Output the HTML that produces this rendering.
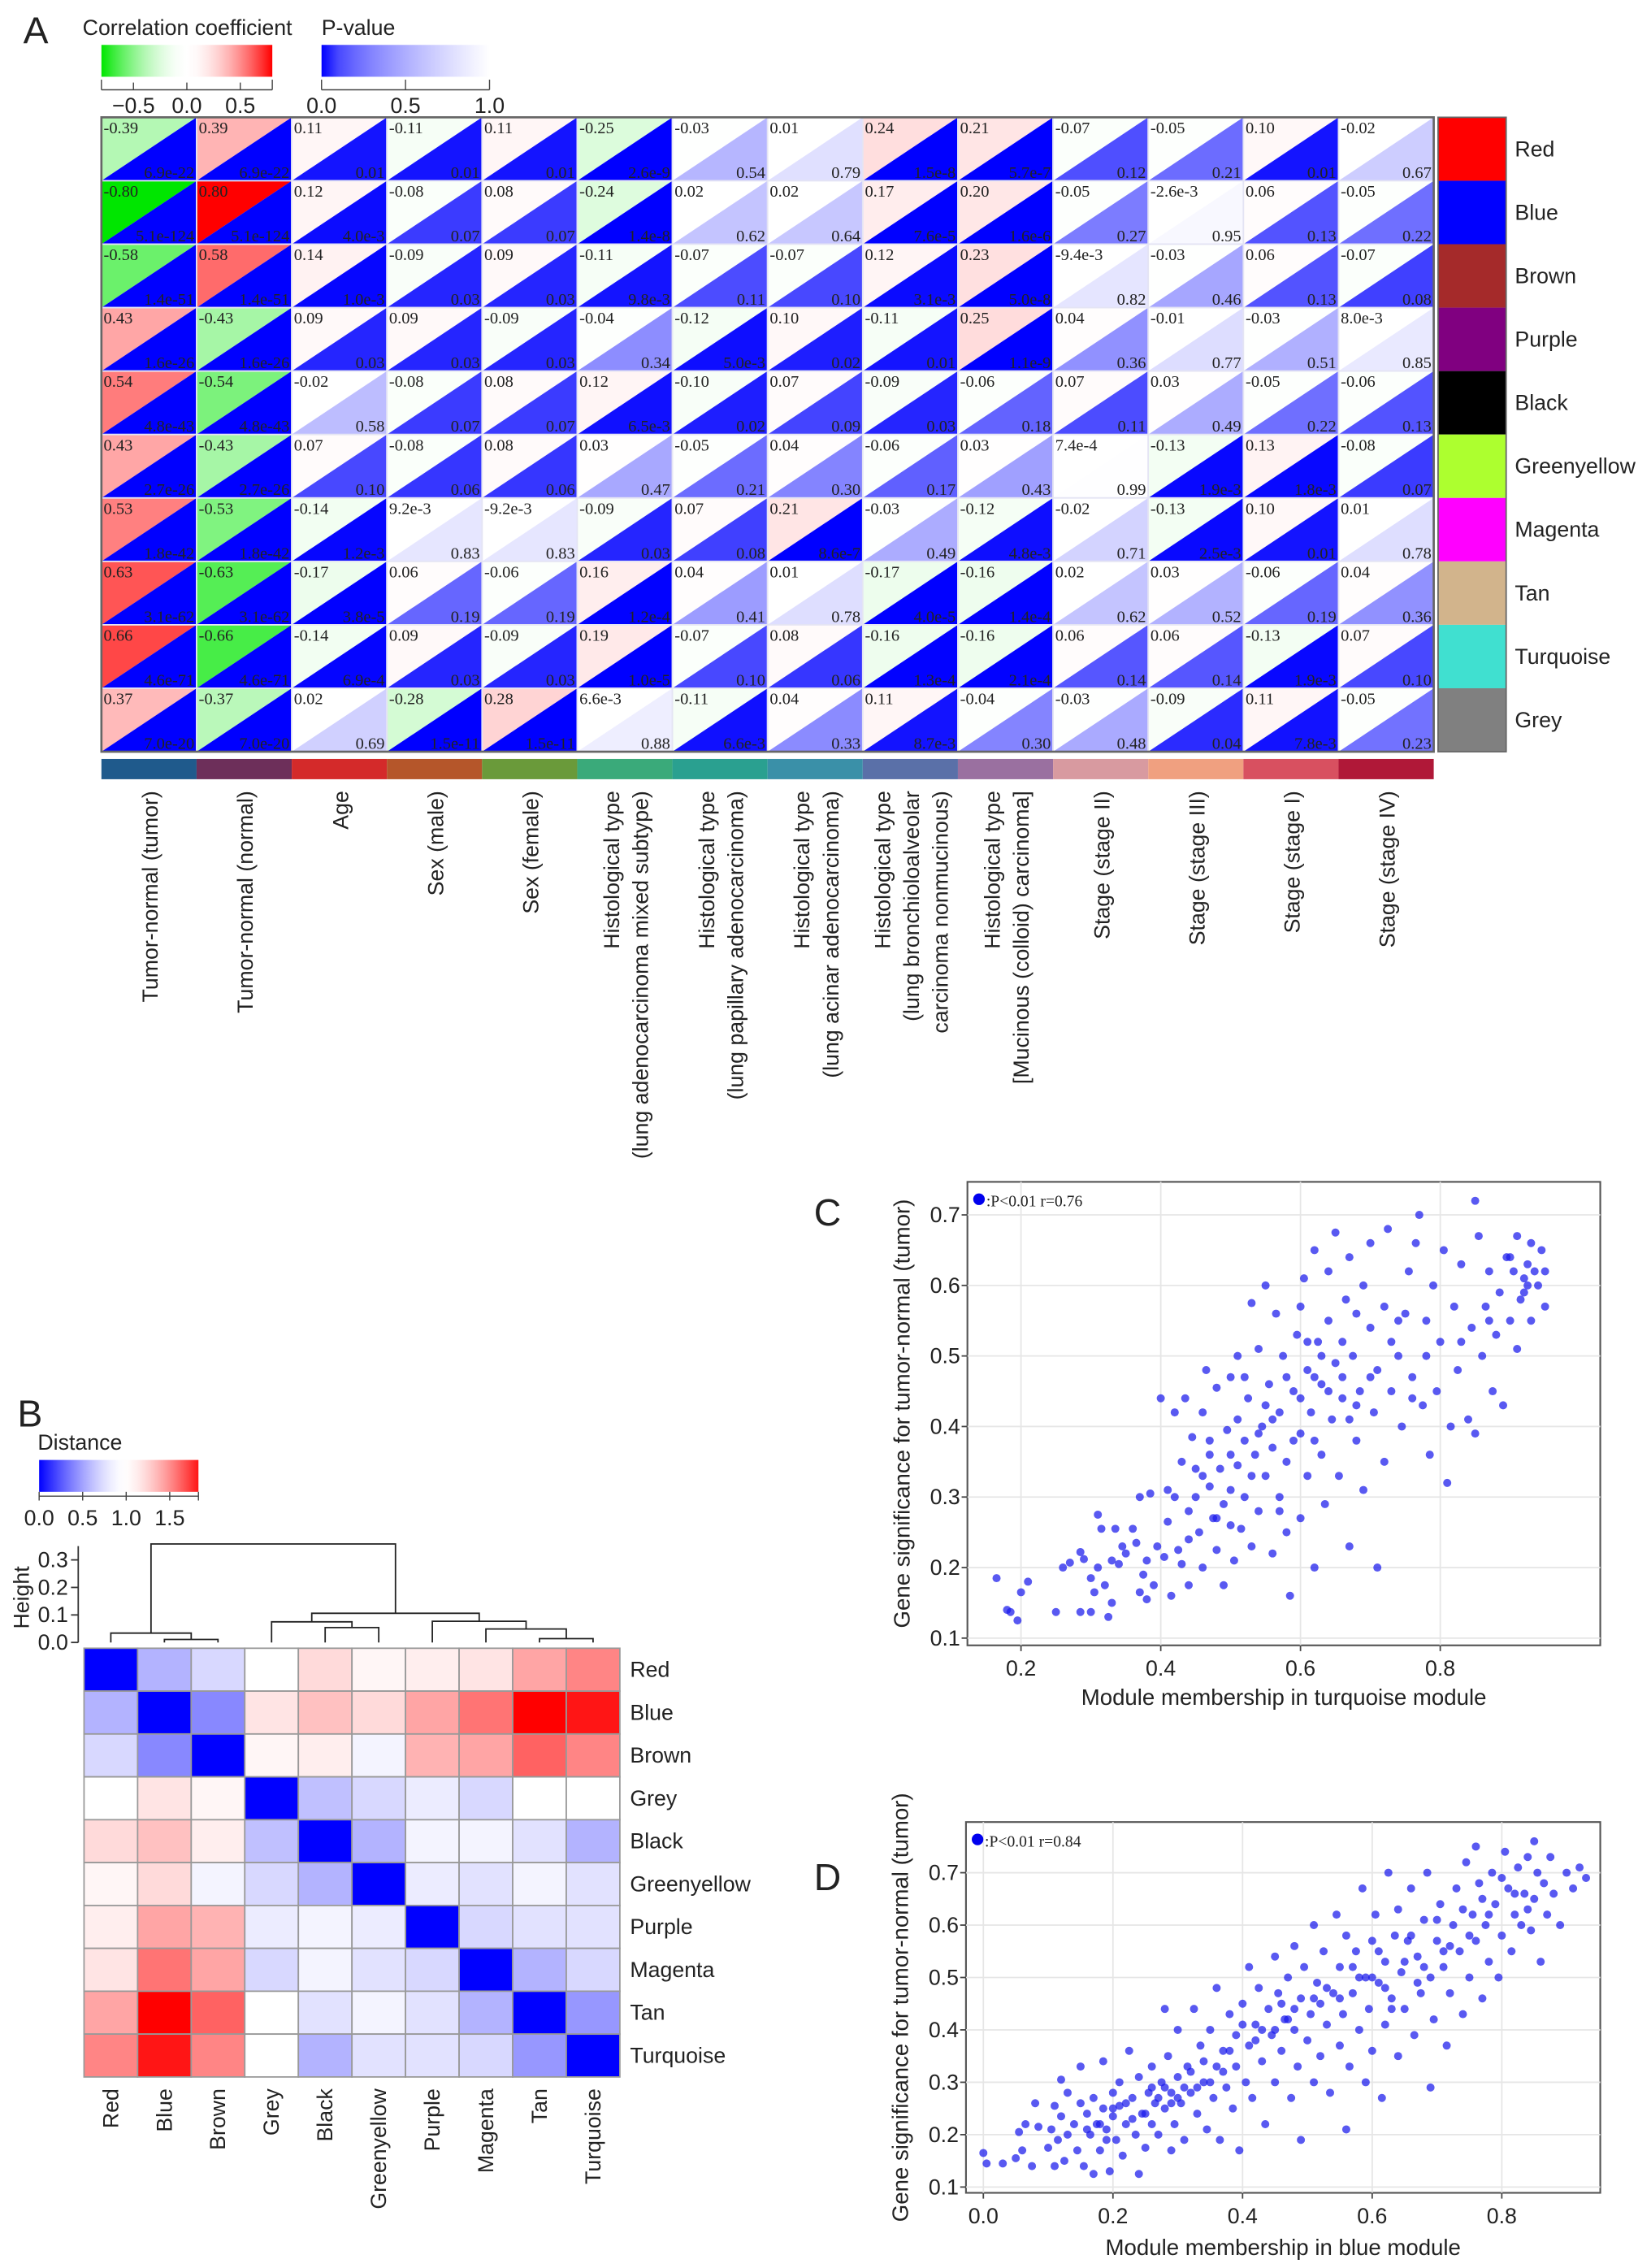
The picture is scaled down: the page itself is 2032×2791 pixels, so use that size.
<!DOCTYPE html>
<html><head><meta charset="utf-8"><style>
html,body{margin:0;padding:0;background:#fff;}
svg{display:block;}
text{font-family:"Liberation Sans",sans-serif;fill:#222;}
.serif{font-family:"Liberation Serif",serif;}
</style></head>
<body>
<svg id="fig" width="2032" height="2791" viewBox="0 0 1140 1565.9" xmlns="http://www.w3.org/2000/svg">
<rect x="0" y="0" width="1140" height="1566" fill="#fff"/>
</svg>
<script>
// ===== Panel A data =====
const traitLabels = [["Tumor-normal (tumor)"],["Tumor-normal (normal)"],["Age"],["Sex (male)"],["Sex (female)"],["Histological type","(lung adenocarcinoma mixed subtype)"],["Histological type","(lung papillary adenocarcinoma)"],["Histological type","(lung acinar adenocarcinoma)"],["Histological type","(lung bronchioloalveolar","carcinoma nonmucinous)"],["Histological type","[Mucinous (colloid) carcinoma]"],["Stage (stage II)"],["Stage (stage III)"],["Stage (stage I)"],["Stage (stage IV)"]];
const traitColors = ["#1f5a8c","#6d2f5a","#d42a2a","#b5562a","#6a9a3a","#3aaa7a","#2aa090","#3a90a8","#5a70a8","#9a70a0","#d89aa0","#f0a080","#d85060","#b01838"];
const moduleNames = ["Red","Blue","Brown","Purple","Black","Greenyellow","Magenta","Tan","Turquoise","Grey"];
const moduleColors = ["#ff0000","#0000ff","#a52a2a","#800080","#000000","#adff2f","#ff00ff","#d2b48c","#40e0d0","#808080"];
const corrValues = [
["-0.39","0.39","0.11","-0.11","0.11","-0.25","-0.03","0.01","0.24","0.21","-0.07","-0.05","0.10","-0.02"],
["-0.80","0.80","0.12","-0.08","0.08","-0.24","0.02","0.02","0.17","0.20","-0.05","-2.6e-3","0.06","-0.05"],
["-0.58","0.58","0.14","-0.09","0.09","-0.11","-0.07","-0.07","0.12","0.23","-9.4e-3","-0.03","0.06","-0.07"],
["0.43","-0.43","0.09","0.09","-0.09","-0.04","-0.12","0.10","-0.11","0.25","0.04","-0.01","-0.03","8.0e-3"],
["0.54","-0.54","-0.02","-0.08","0.08","0.12","-0.10","0.07","-0.09","-0.06","0.07","0.03","-0.05","-0.06"],
["0.43","-0.43","0.07","-0.08","0.08","0.03","-0.05","0.04","-0.06","0.03","7.4e-4","-0.13","0.13","-0.08"],
["0.53","-0.53","-0.14","9.2e-3","-9.2e-3","-0.09","0.07","0.21","-0.03","-0.12","-0.02","-0.13","0.10","0.01"],
["0.63","-0.63","-0.17","0.06","-0.06","0.16","0.04","0.01","-0.17","-0.16","0.02","0.03","-0.06","0.04"],
["0.66","-0.66","-0.14","0.09","-0.09","0.19","-0.07","0.08","-0.16","-0.16","0.06","0.06","-0.13","0.07"],
["0.37","-0.37","0.02","-0.28","0.28","6.6e-3","-0.11","0.04","0.11","-0.04","-0.03","-0.09","0.11","-0.05"]];
const pValues = [
["6.9e-22","6.9e-22","0.01","0.01","0.01","2.6e-9","0.54","0.79","1.5e-8","5.7e-7","0.12","0.21","0.01","0.67"],
["5.1e-124","5.1e-124","4.0e-3","0.07","0.07","1.4e-8","0.62","0.64","7.6e-5","1.6e-6","0.27","0.95","0.13","0.22"],
["1.4e-51","1.4e-51","1.0e-3","0.03","0.03","9.8e-3","0.11","0.10","3.1e-3","5.0e-8","0.82","0.46","0.13","0.08"],
["1.6e-26","1.6e-26","0.03","0.03","0.03","0.34","5.0e-3","0.02","0.01","1.1e-9","0.36","0.77","0.51","0.85"],
["4.8e-43","4.8e-43","0.58","0.07","0.07","6.5e-3","0.02","0.09","0.03","0.18","0.11","0.49","0.22","0.13"],
["2.7e-26","2.7e-26","0.10","0.06","0.06","0.47","0.21","0.30","0.17","0.43","0.99","1.9e-3","1.8e-3","0.07"],
["1.8e-42","1.8e-42","1.2e-3","0.83","0.83","0.03","0.08","8.6e-7","0.49","4.8e-3","0.71","2.5e-3","0.01","0.78"],
["3.1e-62","3.1e-62","3.8e-5","0.19","0.19","1.2e-4","0.41","0.78","4.0e-5","1.4e-4","0.62","0.52","0.19","0.36"],
["4.6e-71","4.6e-71","6.9e-4","0.03","0.03","1.0e-5","0.10","0.06","1.3e-4","2.1e-4","0.14","0.14","1.9e-3","0.10"],
["7.0e-20","7.0e-20","0.69","1.5e-11","1.5e-11","0.88","6.6e-3","0.33","8.7e-3","0.30","0.48","0.04","7.8e-3","0.23"]];
const corrTicks = ["−0.5","0.0","0.5"];
const corrTickVals = [-0.5,0,0.5];
const pTicks = ["0.0","0.5","1.0"];
const pTickVals = [0,0.5,1];

// ===== Panel B data =====
const distNames = ["Red","Blue","Brown","Grey","Black","Greenyellow","Purple","Magenta","Tan","Turquoise"];
const distMatrix = [
[0,0.55,0.7,0.95,1.2,1.05,1.1,1.15,1.4,1.5],
[0.55,0,0.4,1.15,1.3,1.2,1.4,1.55,1.85,1.8],
[0.7,0.4,0,1.05,1.1,0.85,1.35,1.4,1.6,1.5],
[0.95,1.15,1.05,0,0.6,0.7,0.8,0.7,0.95,0.95],
[1.2,1.3,1.1,0.6,0,0.55,0.85,0.85,0.75,0.55],
[1.05,1.2,0.85,0.7,0.55,0,0.8,0.75,0.85,0.75],
[1.1,1.4,1.35,0.8,0.85,0.8,0,0.7,0.75,0.75],
[1.15,1.55,1.4,0.7,0.85,0.75,0.7,0,0.55,0.7],
[1.4,1.85,1.6,0.95,0.75,0.85,0.75,0.55,0,0.45],
[1.5,1.8,1.5,0.95,0.55,0.75,0.75,0.7,0.45,0]];
const distTicks = ["0.0","0.5","1.0","1.5"];
const distTickVals = [0,0.5,1,1.5];
const heightTicks = ["0.0","0.1","0.2","0.3"];
const heightTickVals = [0,0.1,0.2,0.3];
const dendroMerges = [[1,2,0.011],[8,9,0.014],[0,10,0.034],[4,5,0.054],[7,11,0.049],[3,13,0.075],[6,14,0.077],[15,16,0.106],[12,17,0.358]];

// ===== Panel C data =====
const cTicksX = [0.2,0.4,0.6,0.8];
const cTicksY = [0.1,0.2,0.3,0.4,0.5,0.6,0.7];
const cPoints = [[0.165,0.185],[0.18,0.14],[0.185,0.137],[0.195,0.125],[0.2,0.165],[0.21,0.18],[0.25,0.137],[0.26,0.2],[0.27,0.207],[0.285,0.137],[0.285,0.222],[0.29,0.212],[0.3,0.185],[0.3,0.137],[0.305,0.165],[0.31,0.275],[0.31,0.2],[0.315,0.255],[0.32,0.175],[0.325,0.13],[0.33,0.15],[0.33,0.21],[0.335,0.255],[0.34,0.205],[0.345,0.23],[0.35,0.22],[0.36,0.255],[0.365,0.235],[0.37,0.165],[0.37,0.3],[0.375,0.19],[0.38,0.155],[0.38,0.21],[0.385,0.305],[0.39,0.175],[0.395,0.23],[0.4,0.44],[0.405,0.215],[0.41,0.31],[0.41,0.265],[0.415,0.16],[0.42,0.42],[0.425,0.225],[0.43,0.35],[0.43,0.205],[0.435,0.44],[0.44,0.28],[0.44,0.175],[0.445,0.385],[0.45,0.3],[0.455,0.25],[0.46,0.42],[0.46,0.2],[0.465,0.48],[0.47,0.36],[0.47,0.315],[0.475,0.27],[0.48,0.455],[0.48,0.225],[0.485,0.34],[0.49,0.175],[0.49,0.29],[0.495,0.395],[0.5,0.31],[0.5,0.47],[0.505,0.21],[0.51,0.345],[0.51,0.5],[0.515,0.255],[0.52,0.38],[0.52,0.3],[0.525,0.44],[0.53,0.575],[0.53,0.23],[0.535,0.36],[0.54,0.51],[0.54,0.28],[0.545,0.4],[0.55,0.6],[0.55,0.33],[0.555,0.46],[0.56,0.22],[0.56,0.37],[0.565,0.56],[0.57,0.3],[0.57,0.42],[0.575,0.5],[0.58,0.35],[0.58,0.25],[0.585,0.16],[0.59,0.45],[0.595,0.53],[0.6,0.39],[0.6,0.27],[0.605,0.61],[0.61,0.48],[0.61,0.33],[0.615,0.42],[0.62,0.65],[0.62,0.2],[0.625,0.52],[0.63,0.36],[0.63,0.46],[0.635,0.29],[0.64,0.55],[0.64,0.62],[0.645,0.41],[0.65,0.49],[0.65,0.675],[0.655,0.33],[0.66,0.44],[0.665,0.58],[0.67,0.64],[0.67,0.23],[0.675,0.5],[0.68,0.38],[0.685,0.45],[0.69,0.6],[0.69,0.31],[0.7,0.54],[0.7,0.66],[0.705,0.42],[0.71,0.2],[0.71,0.48],[0.72,0.35],[0.72,0.57],[0.725,0.68],[0.73,0.45],[0.74,0.5],[0.745,0.4],[0.75,0.56],[0.755,0.62],[0.76,0.47],[0.765,0.66],[0.77,0.7],[0.775,0.43],[0.78,0.55],[0.785,0.36],[0.79,0.6],[0.795,0.45],[0.8,0.52],[0.805,0.65],[0.81,0.32],[0.815,0.4],[0.82,0.57],[0.825,0.48],[0.83,0.63],[0.84,0.41],[0.845,0.54],[0.85,0.72],[0.85,0.39],[0.855,0.67],[0.86,0.5],[0.865,0.57],[0.87,0.62],[0.875,0.45],[0.88,0.53],[0.885,0.59],[0.89,0.43],[0.895,0.64],[0.9,0.55],[0.905,0.62],[0.91,0.67],[0.91,0.51],[0.915,0.58],[0.92,0.61],[0.925,0.6],[0.925,0.63],[0.93,0.55],[0.93,0.66],[0.935,0.62],[0.94,0.6],[0.945,0.65],[0.95,0.57],[0.95,0.62],[0.52,0.47],[0.56,0.41],[0.6,0.44],[0.62,0.47],[0.66,0.52],[0.68,0.43],[0.58,0.47],[0.54,0.39],[0.5,0.36],[0.46,0.33],[0.64,0.45],[0.7,0.47],[0.74,0.55],[0.78,0.5],[0.62,0.38],[0.57,0.28],[0.48,0.27],[0.44,0.24],[0.53,0.33],[0.59,0.38],[0.61,0.52],[0.63,0.5],[0.66,0.47],[0.67,0.41],[0.55,0.43],[0.51,0.41],[0.47,0.38],[0.6,0.57],[0.68,0.56],[0.73,0.52],[0.76,0.44],[0.83,0.52],[0.87,0.55],[0.92,0.59],[0.9,0.64],[0.45,0.34],[0.42,0.3],[0.5,0.26]];

// ===== Panel D data =====
const dTicksX = [0,0.2,0.4,0.6,0.8];
const dTicksY = [0.1,0.2,0.3,0.4,0.5,0.6,0.7];
const dPoints = [[0,0.165],[0.005,0.145],[0.03,0.145],[0.05,0.155],[0.055,0.205],[0.06,0.17],[0.065,0.22],[0.075,0.14],[0.08,0.26],[0.085,0.215],[0.1,0.175],[0.105,0.21],[0.11,0.255],[0.11,0.14],[0.115,0.19],[0.12,0.305],[0.12,0.235],[0.125,0.15],[0.13,0.28],[0.13,0.2],[0.14,0.22],[0.145,0.17],[0.15,0.33],[0.15,0.26],[0.155,0.14],[0.16,0.24],[0.165,0.2],[0.17,0.125],[0.17,0.27],[0.175,0.22],[0.18,0.17],[0.185,0.34],[0.185,0.25],[0.19,0.21],[0.195,0.13],[0.2,0.28],[0.2,0.235],[0.205,0.19],[0.21,0.3],[0.21,0.255],[0.215,0.16],[0.22,0.22],[0.225,0.36],[0.23,0.27],[0.235,0.2],[0.24,0.125],[0.24,0.31],[0.245,0.24],[0.25,0.175],[0.255,0.28],[0.26,0.33],[0.26,0.22],[0.265,0.26],[0.27,0.2],[0.275,0.3],[0.28,0.44],[0.28,0.25],[0.285,0.35],[0.29,0.28],[0.29,0.17],[0.295,0.22],[0.3,0.31],[0.3,0.4],[0.305,0.26],[0.31,0.19],[0.315,0.33],[0.32,0.28],[0.325,0.44],[0.33,0.24],[0.335,0.37],[0.34,0.3],[0.345,0.21],[0.35,0.4],[0.355,0.27],[0.36,0.33],[0.36,0.48],[0.365,0.19],[0.37,0.36],[0.375,0.29],[0.38,0.43],[0.385,0.25],[0.39,0.39],[0.39,0.33],[0.395,0.17],[0.4,0.45],[0.405,0.3],[0.41,0.52],[0.41,0.37],[0.415,0.27],[0.42,0.41],[0.425,0.48],[0.43,0.34],[0.435,0.22],[0.44,0.44],[0.445,0.39],[0.45,0.54],[0.45,0.3],[0.455,0.47],[0.46,0.36],[0.465,0.42],[0.47,0.5],[0.475,0.27],[0.48,0.4],[0.48,0.56],[0.485,0.33],[0.49,0.46],[0.49,0.19],[0.495,0.52],[0.5,0.38],[0.505,0.43],[0.51,0.6],[0.51,0.3],[0.515,0.49],[0.52,0.35],[0.525,0.55],[0.53,0.41],[0.535,0.28],[0.54,0.47],[0.545,0.62],[0.55,0.37],[0.55,0.52],[0.555,0.43],[0.56,0.21],[0.56,0.58],[0.565,0.33],[0.57,0.47],[0.575,0.55],[0.58,0.4],[0.585,0.67],[0.59,0.5],[0.59,0.3],[0.595,0.44],[0.6,0.57],[0.6,0.36],[0.605,0.62],[0.61,0.49],[0.615,0.27],[0.62,0.53],[0.62,0.41],[0.625,0.7],[0.63,0.46],[0.635,0.58],[0.64,0.35],[0.64,0.63],[0.645,0.51],[0.65,0.44],[0.655,0.57],[0.66,0.67],[0.665,0.39],[0.67,0.54],[0.675,0.47],[0.68,0.61],[0.685,0.7],[0.69,0.5],[0.69,0.29],[0.695,0.42],[0.7,0.57],[0.705,0.64],[0.71,0.52],[0.715,0.37],[0.72,0.47],[0.725,0.6],[0.73,0.67],[0.735,0.55],[0.74,0.43],[0.745,0.72],[0.75,0.5],[0.755,0.62],[0.76,0.57],[0.76,0.75],[0.765,0.68],[0.77,0.46],[0.775,0.6],[0.78,0.53],[0.785,0.7],[0.79,0.64],[0.795,0.5],[0.8,0.58],[0.805,0.74],[0.81,0.67],[0.815,0.55],[0.82,0.62],[0.825,0.71],[0.83,0.6],[0.835,0.66],[0.84,0.73],[0.845,0.59],[0.85,0.76],[0.85,0.65],[0.855,0.7],[0.86,0.53],[0.865,0.68],[0.87,0.62],[0.875,0.73],[0.88,0.66],[0.89,0.6],[0.9,0.7],[0.91,0.67],[0.92,0.71],[0.93,0.69],[0.2,0.25],[0.22,0.26],[0.25,0.24],[0.28,0.29],[0.3,0.27],[0.32,0.32],[0.35,0.3],[0.38,0.36],[0.42,0.38],[0.45,0.4],[0.48,0.44],[0.52,0.45],[0.55,0.46],[0.58,0.5],[0.62,0.48],[0.65,0.53],[0.68,0.52],[0.72,0.56],[0.75,0.58],[0.78,0.62],[0.82,0.66],[0.18,0.22],[0.27,0.27],[0.33,0.29],[0.4,0.41],[0.46,0.45],[0.53,0.48],[0.6,0.5],[0.66,0.58],[0.7,0.61],[0.23,0.23],[0.26,0.29],[0.29,0.26],[0.31,0.29],[0.34,0.34],[0.37,0.32],[0.43,0.4],[0.47,0.42],[0.51,0.46],[0.57,0.52],[0.61,0.55],[0.63,0.44],[0.67,0.49],[0.71,0.55],[0.74,0.63],[0.77,0.65],[0.8,0.69],[0.84,0.63],[0.19,0.19],[0.16,0.21]];

// ===== drawing helpers =====
const NS = "http://www.w3.org/2000/svg";
const svg = document.getElementById("fig");
function mk(tag, attrs, parent) {
  const el = document.createElementNS(NS, tag);
  for (const k in attrs) el.setAttribute(k, attrs[k]);
  (parent || svg).appendChild(el);
  return el;
}
function txt(s, attrs, parent) { const t = mk("text", attrs, parent); t.textContent = s; return t; }
function mix(c, t) {
  t = Math.max(0, Math.min(1, t));
  return "rgb(" + c.map(v => Math.round(255 + (v - 255) * t)).join(",") + ")";
}
function corrColor(r) {
  const t = Math.min(1, Math.pow(Math.abs(r) / 0.8, 1.7));
  return r >= 0 ? mix([255, 0, 0], t) : mix([0, 230, 0], t);
}
function pColor(p) { return mix([0, 0, 255], 1 - Math.pow(p, 0.55)); }

// ===== Panel A =====
const gA = mk("g", {});


let el = txt("A", {x: 16, y: 30, "font-size": 26}, gA);



const defs = mk("defs", {});
const g1 = mk("linearGradient", {id: "gCorr", x1: 0, x2: 1, y1: 0, y2: 0}, defs);
for (let i = 0; i <= 16; i++) { const r = -0.8 + i * 0.1; mk("stop", {offset: (i / 16), "stop-color": corrColor(r)}, g1); }
const g2 = mk("linearGradient", {id: "gP", x1: 0, x2: 1, y1: 0, y2: 0}, defs);
for (let i = 0; i <= 10; i++) mk("stop", {offset: i / 10, "stop-color": pColor(i / 10)}, g2);
const g3 = mk("linearGradient", {id: "gDist", x1: 0, x2: 1, y1: 0, y2: 0}, defs);

const cbA = mk("g", {}, gA);


txt("Correlation coefficient", {x: 57, y: 24, "font-size": 15}, cbA);
mk("rect", {x: 70, y: 31, width: 118, height: 22, fill: "url(#gCorr)"}, cbA);
mk("line", {x1: 70, x2: 188, y1: 62, y2: 62, stroke: "#444", "stroke-width": 0.8}, cbA);
const cx = v => 70 + (v + 0.8) / 1.6 * 118;
[-0.8, 0.8].forEach(v => mk("line", {x1: cx(v), x2: cx(v), y1: 55, y2: 62, stroke: "#444", "stroke-width": 0.8}, cbA));
corrTickVals.forEach((v, i) => {
  mk("line", {x1: cx(v), x2: cx(v), y1: 57, y2: 62, stroke: "#444", "stroke-width": 0.8}, cbA);
  txt(corrTicks[i], {x: cx(v), y: 78, "font-size": 15, "text-anchor": "middle"}, cbA);
});
const cbP = mk("g", {}, gA);


txt("P-value", {x: 222, y: 24, "font-size": 15}, cbP);
mk("rect", {x: 222, y: 31, width: 116, height: 22, fill: "url(#gP)"}, cbP);
mk("line", {x1: 222, x2: 338, y1: 62, y2: 62, stroke: "#444", "stroke-width": 0.8}, cbP);
const pxs = v => 222 + v * 116;
pTickVals.forEach((v, i) => {
  mk("line", {x1: pxs(v), x2: pxs(v), y1: 55, y2: 62, stroke: "#444", "stroke-width": 0.8}, cbP);
  txt(pTicks[i], {x: pxs(v), y: 78, "font-size": 15, "text-anchor": "middle"}, cbP);
});

const hx0 = 70, hy0 = 81, cw = 920 / 14, ch = 438 / 10;
const hm = mk("g", {}, gA);


for (let r = 0; r < corrValues.length; r++) {
  for (let c = 0; c < corrValues[r].length; c++) {
    const x = hx0 + c * cw, y = hy0 + r * ch;
    const rv = parseFloat(corrValues[r][c]), pv = parseFloat(pValues[r][c]);
    const cell = mk("g", {}, hm);
    
    
    mk("polygon", {points: `${x},${y} ${x + cw},${y} ${x},${y + ch}`, fill: corrColor(rv)}, cell);
    mk("polygon", {points: `${x + cw},${y} ${x + cw},${y + ch} ${x},${y + ch}`, fill: pColor(pv)}, cell);
    mk("rect", {x: x, y: y, width: cw, height: ch, fill: "none", stroke: "#e4e4f4", "stroke-width": 1}, cell);
    txt(corrValues[r][c], {x: x + 1.5, y: y + 11, "font-size": 11.5, class: "serif"}, cell);
    txt(pValues[r][c], {x: x + cw - 1.5, y: y + ch - 2, "font-size": 11.5, class: "serif", "text-anchor": "end"}, cell);
  }
}
mk("rect", {x: hx0, y: hy0, width: 920, height: 438, fill: "none", stroke: "#666", "stroke-width": 1.5}, hm);

const ml = mk("g", {}, gA);


moduleNames.forEach((n, i) => {
  const y = hy0 + i * ch;
  const sw = mk("rect", {x: 993, y: y, width: 47, height: ch, fill: moduleColors[i]}, ml);
  
  
  const lt = txt(n, {x: 1046, y: y + ch / 2 + 5, "font-size": 15}, ml);
  
  
});
mk("rect", {x: 993, y: hy0, width: 47, height: 438, fill: "none", stroke: "#666", "stroke-width": 1}, ml);

const tl = mk("g", {}, gA);


traitLabels.forEach((lines, i) => {
  const x = hx0 + i * cw;
  const bar = mk("rect", {x: x, y: 524, width: cw, height: 14, fill: traitColors[i]}, tl);
  
  
  const mid = x + cw / 2, n = lines.length, ls = 20;
  lines.forEach((s, j) => {
    const bx = mid + 6 + (j - (n - 1) / 2) * ls;
    const t = txt(s, {x: 0, y: 0, "font-size": 15, "text-anchor": "end", transform: `translate(${bx},546) rotate(-90)`}, tl);
    
    
  });
});

// ===== Panel B =====
const gB = mk("g", {});


el = txt("B", {x: 12, y: 985, "font-size": 26}, gB);


function distColor(d) {
  if (d <= 0.95) return mix([0, 0, 255], Math.pow(1 - d / 0.95, 1.4));
  return mix([255, 0, 0], Math.pow((d - 0.95) / 0.9, 1.5));
}
for (let i = 0; i <= 18; i++) mk("stop", {offset: i / 18, "stop-color": distColor(i * 0.1)}, g3);
const cbB = mk("g", {}, gB);


txt("Distance", {x: 26, y: 1001, "font-size": 15}, cbB);
const dbx = v => 27 + v / 1.83 * 110;
mk("rect", {x: 27, y: 1008, width: 110, height: 22, fill: "url(#gDist)"}, cbB);
mk("line", {x1: 27, x2: 137, y1: 1033, y2: 1033, stroke: "#444", "stroke-width": 0.8}, cbB);
mk("line", {x1: 137, x2: 137, y1: 1030, y2: 1036, stroke: "#444", "stroke-width": 0.8}, cbB);
distTickVals.forEach((v, i) => {
  mk("line", {x1: dbx(v), x2: dbx(v), y1: 1030, y2: 1036, stroke: "#444", "stroke-width": 0.8}, cbB);
  txt(distTicks[i], {x: dbx(v), y: 1053, "font-size": 15, "text-anchor": "middle"}, cbB);
});

const bx0 = 58, by0 = 1138, bcw = 370 / 10, bch = 296 / 10;
const bh = mk("g", {}, gB);


distMatrix.forEach((row, r) => row.forEach((d, c) => {
  const cell = mk("rect", {x: bx0 + c * bcw, y: by0 + r * bch, width: bcw, height: bch, fill: distColor(d), stroke: "#999", "stroke-width": 1}, bh);
  
  
}));
distNames.forEach((n, i) => {
  const rl = txt(n, {x: 435, y: by0 + i * bch + bch / 2 + 5, "font-size": 15}, bh);
  
  
  const cl = txt(n, {x: 0, y: 0, "font-size": 15, "text-anchor": "end", transform: `translate(${bx0 + i * bcw + bcw / 2 + 5},1442) rotate(-90)`}, bh);
  
  
});
const dg = mk("g", {}, gB);


const hy = h => 1134 - h * 190;
mk("line", {x1: 54, x2: 54, y1: hy(0.35), y2: hy(0), stroke: "#333", "stroke-width": 1}, dg);
heightTickVals.forEach((v, i) => {
  mk("line", {x1: 49, x2: 54, y1: hy(v), y2: hy(v), stroke: "#333", "stroke-width": 1}, dg);
  txt(heightTicks[i], {x: 47, y: hy(v) + 5, "font-size": 15, "text-anchor": "end"}, dg);
});
txt("Height", {x: 0, y: 0, "font-size": 15, "text-anchor": "middle", transform: "translate(20,1103) rotate(-90)"}, dg);
const nodeX = [], nodeH = [];
for (let i = 0; i < 10; i++) { nodeX.push(bx0 + i * bcw + bcw / 2); nodeH.push(0); }
dendroMerges.forEach(m => {
  const [a, b, h] = m;
  const p = mk("path", {d: `M${nodeX[a]},${hy(nodeH[a])} V${hy(h)} H${nodeX[b]} V${hy(nodeH[b])}`, fill: "none", stroke: "#222", "stroke-width": 1}, dg);
  
  
  nodeX.push((nodeX[a] + nodeX[b]) / 2); nodeH.push(h);
});

// ===== Scatter panels =====
function scatter(opts) {
  const g = mk("g", {});
  
  
  const lab = txt(opts.label, {x: opts.lx, y: opts.ly, "font-size": 26}, g);
  
  
  const f = opts.frame;
  mk("rect", {x: f.l, y: f.t, width: f.r - f.l, height: f.b - f.t, fill: "#fff", stroke: "#555", "stroke-width": 1.2}, g);
  const grid = mk("g", {}, g);
  
  
  opts.ticksX.forEach(v => {
    mk("line", {x1: opts.sx(v), x2: opts.sx(v), y1: f.t, y2: f.b, stroke: "#e6e6e6", "stroke-width": 1}, grid);
  });
  opts.ticksY.forEach(v => {
    mk("line", {x1: f.l, x2: f.r, y1: opts.sy(v), y2: opts.sy(v), stroke: "#e6e6e6", "stroke-width": 1}, grid);
  });
  const xa = mk("g", {}, g);
  
  
  opts.ticksX.forEach(v => {
    mk("line", {x1: opts.sx(v), x2: opts.sx(v), y1: f.b, y2: f.b + 4, stroke: "#444"}, xa);
    txt(v.toFixed(1), {x: opts.sx(v), y: f.b + 21, "font-size": 15, "text-anchor": "middle"}, xa);
  });
  const ya = mk("g", {}, g);
  
  
  opts.ticksY.forEach(v => {
    mk("line", {x1: f.l - 4, x2: f.l, y1: opts.sy(v), y2: opts.sy(v), stroke: "#444"}, ya);
    txt(v.toFixed(1), {x: f.l - 5, y: opts.sy(v) + 5, "font-size": 15, "text-anchor": "end"}, ya);
  });
  const xt = txt(opts.xTitle, {x: (f.l + f.r) / 2, y: opts.xty, "font-size": 15.5, "text-anchor": "middle"}, g);
  
  
  const yt = txt("Gene significance for tumor-normal (tumor)", {x: 0, y: 0, "font-size": 15.5, "text-anchor": "middle", transform: `translate(${f.l - 40},${(f.t + f.b) / 2}) rotate(-90)`}, g);
  
  
  const pts = mk("g", {}, g);
  
  
  opts.points.forEach(p => {
    const c = mk("circle", {cx: opts.sx(p[0]), cy: opts.sy(p[1]), r: 2.8, fill: "rgba(25,25,235,0.72)"}, pts);
    
    
  });
  const lg = mk("g", {}, g);
  
  
  mk("circle", {cx: f.l + 8, cy: f.t + 12, r: 4, fill: "#0000ee"}, lg);
  txt(opts.legend, {x: f.l + 13, y: f.t + 17, "font-size": 11, class: "serif"}, lg);
}
scatter({name: "panel-c-turquoise-scatter", label: "C", lx: 562, ly: 846,
  frame: {l: 668, r: 1105, t: 816, b: 1136},
  sx: v => 705 + (v - 0.2) * 482.5, sy: v => 1131 - (v - 0.1) * 487,
  ticksX: cTicksX, ticksY: cTicksY, points: cPoints,
  xTitle: "Module membership in turquoise module", xty: 1177, legend: ":P<0.01 r=0.76"});
scatter({name: "panel-d-blue-scatter", label: "D", lx: 562, ly: 1305,
  frame: {l: 667, r: 1105, t: 1258, b: 1514},
  sx: v => 679 + v * 447.5, sy: v => 1510 - (v - 0.1) * 361.7,
  ticksX: dTicksX, ticksY: dTicksY, points: dPoints,
  xTitle: "Module membership in blue module", xty: 1557, legend: ":P<0.01 r=0.84"});
</script>
</body></html>
